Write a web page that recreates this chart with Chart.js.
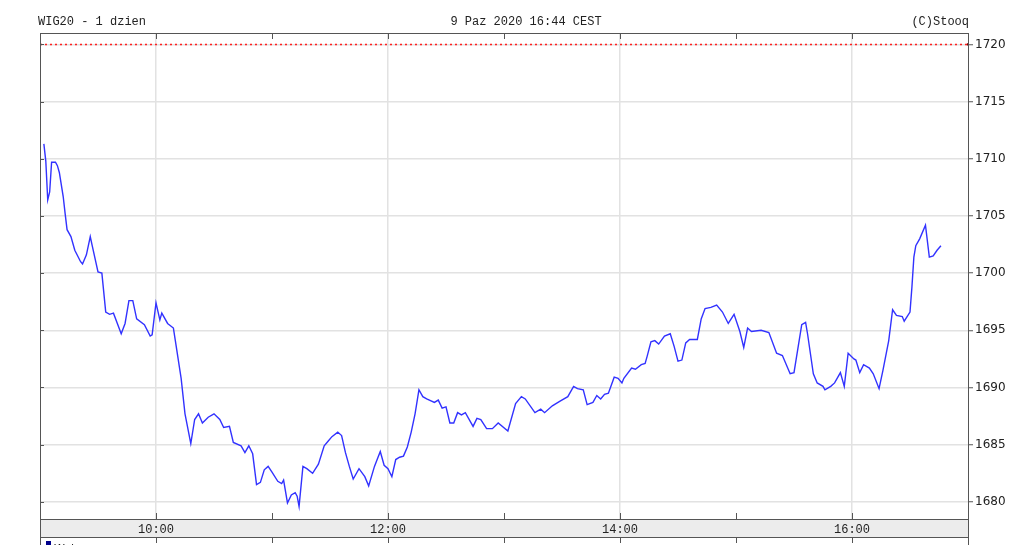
<!DOCTYPE html>
<html>
<head>
<meta charset="utf-8">
<script src="https://cdn.jsdelivr.net/npm/chart.js@4"></script>
<style>
  html, body { margin: 0; padding: 0; background: #fff; }
  canvas { display: block; }
</style>
</head>
<body>
<canvas id="myChart" width="1024" height="545"></canvas>
<script>
// intraday WIG20
var times = ['09:02','09:03','09:04','09:05','09:06','09:08','09:09','09:10','09:12','09:13','09:14','09:16','09:18','09:21','09:22','09:24','09:26','09:27','09:30','09:32','09:34','09:36','09:38','09:42','09:44','09:46','09:48','09:50','09:54','09:57','09:58',
  '10:00','10:02','10:03','10:06','10:09','10:10','10:13','10:15','10:18','10:20','10:22','10:24','10:27','10:30','10:33','10:35','10:38','10:40','10:44','10:46','10:48','10:50','10:52','10:54','10:56','10:58',
  '11:00','11:03','11:05','11:06','11:08','11:10','11:12','11:13','11:14','11:16','11:18','11:21','11:24','11:27','11:29','11:31','11:34','11:36','11:38','11:40','11:42','11:45','11:48','11:50','11:53','11:56','11:58',
  '12:00','12:02','12:04','12:06','12:08','12:10','12:12','12:14','12:16','12:18','12:20','12:24','12:26','12:28','12:30','12:32','12:34','12:36','12:38','12:40','12:44','12:46','12:48','12:51','12:54','12:57',
  '13:02','13:06','13:09','13:11','13:16','13:19','13:21','13:25','13:29','13:33','13:36','13:38','13:41','13:43','13:46','13:48','13:50','13:52','13:54','13:57','13:59',
  '14:01','14:02','14:06','14:08','14:11','14:13','14:14','14:16','14:18','14:20','14:23','14:26','14:28','14:30','14:32','14:34','14:36','14:40','14:42','14:44','14:47','14:50','14:53','14:56','14:59',
  '15:02','15:04','15:06','15:08','15:13','15:17','15:21','15:24','15:28','15:30','15:34','15:36','15:37','15:40','15:42','15:45','15:46','15:49','15:51','15:54','15:56','15:58',
  '16:01','16:02','16:04','16:06','16:09','16:11','16:14','16:16','16:19','16:21','16:23','16:26','16:27','16:30','16:31','16:32','16:33','16:35','16:38','16:40','16:42','16:44','16:46'];

var prices = [1711.3,1709.8,1706.4,1707.1,1709.7,1709.7,1709.4,1708.8,1706.7,1705.2,1703.8,1703.2,1702.0,1701.0,1700.8,1701.6,1703.2,1702.4,1700.1,1700.0,1696.6,1696.4,1696.5,1694.7,1695.6,1697.6,1697.6,1696.0,1695.5,1694.5,1694.6,
  1697.4,1695.9,1696.5,1695.6,1695.2,1694.1,1690.8,1687.7,1685.1,1687.2,1687.7,1686.9,1687.4,1687.7,1687.2,1686.5,1686.6,1685.2,1684.9,1684.3,1684.9,1684.2,1681.5,1681.7,1682.8,1683.1,
  1682.6,1681.8,1681.6,1681.9,1679.9,1680.6,1680.8,1680.5,1679.6,1683.1,1682.9,1682.5,1683.3,1684.9,1685.3,1685.7,1686.1,1685.8,1684.3,1683.1,1682.0,1682.9,1682.2,1681.4,1683.1,1684.4,1683.2,
  1682.9,1682.2,1683.7,1683.9,1684.0,1684.8,1686.1,1687.7,1689.8,1689.2,1689.0,1688.7,1688.9,1688.2,1688.3,1686.9,1686.9,1687.8,1687.6,1687.8,1686.6,1687.3,1687.2,1686.4,1686.4,1686.9,
  1686.2,1688.6,1689.2,1689.0,1687.8,1688.1,1687.8,1688.4,1688.8,1689.2,1690.1,1689.9,1689.8,1688.5,1688.7,1689.3,1689.0,1689.4,1689.5,1690.9,1690.8,
  1690.4,1690.8,1691.7,1691.6,1692.0,1692.1,1692.7,1694.0,1694.1,1693.8,1694.5,1694.7,1693.6,1692.3,1692.4,1693.9,1694.2,1694.2,1696.0,1696.9,1697.0,1697.2,1696.6,1695.6,1696.4,
  1694.9,1693.5,1695.2,1694.9,1695.0,1694.8,1693.0,1692.8,1691.2,1691.3,1695.5,1695.7,1694.7,1691.2,1690.4,1690.1,1689.8,1690.1,1690.4,1691.3,1690.1,1693.0,
  1692.5,1692.4,1691.3,1692.0,1691.7,1691.2,1689.9,1691.5,1694.1,1696.8,1696.3,1696.2,1695.8,1696.6,1698.8,1701.4,1702.4,1703.0,1704.2,1701.4,1701.5,1702.0,1702.4];

var refLevel = 1720;
var yTicks = [1680, 1685, 1690, 1695, 1700, 1705, 1710, 1715, 1720];
var hourTicks = ['10:00','11:00','12:00','13:00','14:00','15:00','16:00'];
var hourLabels = ['10:00','12:00','14:00','16:00'];

var dayStart = '09:00', dayEnd = '17:00';

function toMin(t) {
  var p = t.split(':');
  return (+p[0]) * 60 + (+p[1]) - 9 * 60;
}

var points = times.map(function (t, i) { return { x: toMin(t), y: prices[i] }; });

var frameColor = '#555';
var monoFont = '12px "Liberation Mono", "DejaVu Sans Mono", monospace';

var stooqFrame = {
  id: 'stooqFrame',
  beforeDraw: function (chart) {
    var c = chart.ctx, a = chart.chartArea;
    c.save();
    c.fillStyle = '#fff';
    c.fillRect(0, 0, chart.width, chart.height);
    c.fillStyle = '#ececec';
    c.fillRect(a.left, a.bottom, a.right - a.left, 18);
    c.restore();
  },
  afterDraw: function (chart) {
    var c = chart.ctx, a = chart.chartArea;
    var xs = chart.scales.x, ys = chart.scales.y;
    c.save();
    c.strokeStyle = frameColor;
    c.lineWidth = 1;
    c.beginPath();
    // box
    c.moveTo(a.left + 0.5, a.top + 0.5); c.lineTo(a.right + 0.5, a.top + 0.5);
    c.moveTo(a.left + 0.5, a.top); c.lineTo(a.left + 0.5, chart.height);
    c.moveTo(a.right + 0.5, a.top); c.lineTo(a.right + 0.5, chart.height);
    c.moveTo(a.left, a.bottom + 0.5); c.lineTo(a.right, a.bottom + 0.5);
    c.moveTo(a.left, a.bottom + 18.5); c.lineTo(a.right, a.bottom + 18.5);
    hourTicks.forEach(function (t) {
      var px = Math.round(xs.getPixelForValue(toMin(t))) + 0.5;
      c.moveTo(px, a.top); c.lineTo(px, a.top + 6);
      c.moveTo(px, a.bottom); c.lineTo(px, a.bottom - 6);
      c.moveTo(px, a.bottom + 18); c.lineTo(px, a.bottom + 24);
    });
    yTicks.forEach(function (v) {
      var py = Math.round(ys.getPixelForValue(v)) + 0.5;
      c.moveTo(a.left, py); c.lineTo(a.left + 4, py);
    });
    c.stroke();

    c.fillStyle = '#222';
    c.font = monoFont;
    c.textBaseline = 'alphabetic';
    c.textAlign = 'left';
    c.fillText('WIG20 - 1 dzien', a.left - 2, 25);
    c.textAlign = 'center';
    c.fillText('9 Paz 2020 16:44 CEST', 526, 25);
    c.textAlign = 'right';
    c.fillText('(C)Stooq', a.right + 1, 25);

    c.textAlign = 'left';
    c.fillStyle = '#00008b';
    c.fillRect(a.left + 6, 541, 5, 5);
    c.fillStyle = '#222';
    c.font = '11px "DejaVu Sans", sans-serif';
    c.fillText('Wolumen', a.left + 14, 552);
    c.restore();
  }
};

var ctx = document.getElementById('myChart');
var myChart = new Chart(ctx, {
  type: 'line',
  data: {
    datasets: [{
      label: 'WIG20',
      data: points,
      borderColor: 'rgb(50, 50, 255)',
      borderWidth: 1.4,
      pointRadius: 0,
      tension: 0
    }, {
      label: 'ref',
      data: [{ x: toMin(dayStart), y: refLevel }, { x: toMin(dayEnd), y: refLevel }],
      borderColor: '#ff2020',
      borderWidth: 1.5,
      borderDash: [2, 3],
      pointRadius: 1.5,
      pointStyle: 'rect',
      pointBackgroundColor: '#700',
      pointBorderWidth: 0
    }]
  },
  options: {
    responsive: false,
    animation: false,
    layout: { padding: { left: 40, top: 33, right: 0, bottom: 0 } },
    plugins: {
      legend: { display: false },
      tooltip: { enabled: false }
    },
    scales: {
      x: {
        type: 'linear',
        min: toMin(dayStart),
        max: toMin(dayEnd),
        afterBuildTicks: function (s) {
          s.ticks = hourTicks.map(function (t) { return { value: toMin(t) }; });
        },
        afterFit: function (s) { s.height = 26; },
        border: { display: false },
        grid: {
          drawTicks: false,
          lineWidth: 1.5,
          color: function (c) {
            var t = hourTicks[c.index];
            return hourLabels.indexOf(t) >= 0 ? '#e2e2e2' : 'rgba(0,0,0,0)';
          }
        },
        ticks: {
          autoSkip: false,
          maxRotation: 0,
          padding: 4,
          color: '#222',
          font: { family: '"Liberation Mono", "DejaVu Sans Mono", monospace', size: 12 },
          callback: function (v, i) {
            var t = hourTicks[i];
            return hourLabels.indexOf(t) >= 0 ? t : '';
          }
        }
      },
      y: {
        position: 'right',
        min: 1678.5,
        max: 1721,
        afterBuildTicks: function (s) {
          s.ticks = yTicks.map(function (v) { return { value: v }; });
        },
        afterFit: function (s) { s.width = 56; },
        border: { display: false },
        grid: {
          color: '#e2e2e2',
          lineWidth: 1.5,
          tickLength: 5,
          tickColor: frameColor,
          tickWidth: 1
        },
        ticks: {
          padding: 2,
          color: '#222',
          font: { family: '"DejaVu Sans", sans-serif', size: 12 },
          callback: function (v) { return String(v); }
        }
      }
    }
  },
  plugins: [stooqFrame]
});
</script>
</body>
</html>
